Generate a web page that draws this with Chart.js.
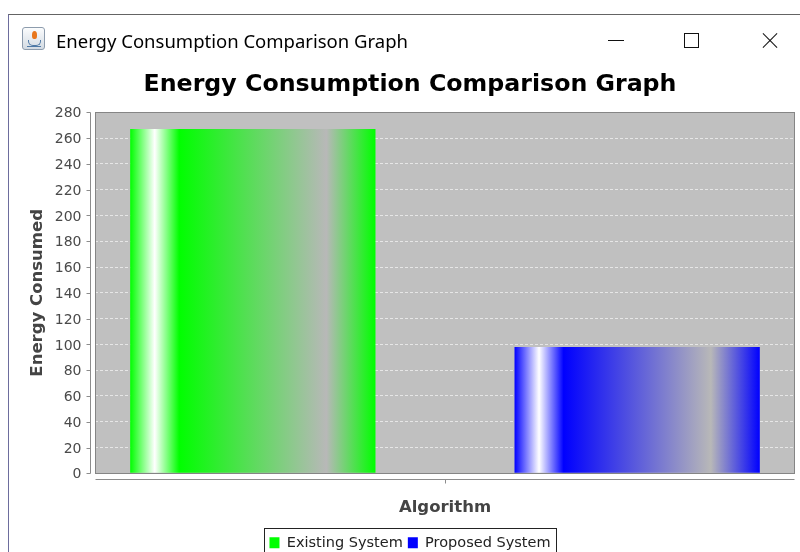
<!DOCTYPE html>
<html>
<head>
<meta charset="utf-8">
<script src="https://cdn.jsdelivr.net/npm/chart.js@4.4.1/dist/chart.umd.min.js"></script>
<style>
html, body { margin: 0; padding: 0; background: #ffffff; overflow: hidden; width: 800px; height: 552px; }
#chart { position: absolute; left: 0; top: 0; }
#frame { position: absolute; left: 8px; top: 14px; width: 800px; height: 560px; box-sizing: border-box;
  border-left: 1px solid #6d6d9d; border-top: 1px solid #646464; pointer-events: none; }
#wintitle { position: absolute; left: 56px; top: 28px; font-family: 'Noto Sans', sans-serif; font-size: 18.5px;
  line-height: 26px; color: #000; white-space: nowrap; }
#icon { position: absolute; left: 22px; top: 27px; width: 23px; height: 23px; box-sizing: border-box;
  border: 1px solid #8d9cad; border-radius: 3px; background: linear-gradient(#fbfcfd, #d3dbe3); }
#icon .flame { position: absolute; left: 9px; top: 3px; width: 5px; height: 8px; border-radius: 50% 50% 40% 40%;
  background: #e8761c; }
#icon .cup { position: absolute; left: 5px; top: 12px; width: 11px; height: 5px; border-radius: 0 0 5px 5px;
  border: 1px solid #4f79a6; border-top: none; }
#icon .plate { position: absolute; left: 4px; top: 18px; width: 14px; height: 1px; background: #4f79a6; }
#minb { position: absolute; left: 608px; top: 40px; width: 16px; height: 1px; background: #111; }
#maxb { position: absolute; left: 684px; top: 33px; width: 15px; height: 15px; box-sizing: border-box; border: 1px solid #111; }
.xl { position: absolute; left: 760px; top: 40px; width: 20px; height: 1px; background: #111; }
</style>
</head>
<body>
<canvas id="chart" width="800" height="560" style="width:800px;height:560px"></canvas>
<div id="frame"></div>
<div id="icon"><div class="flame"></div><div class="cup"></div><div class="plate"></div></div>
<div id="wintitle">Energy Consumption Comparison Graph</div>
<div id="minb"></div>
<div id="maxb"></div>
<div class="xl" style="transform: rotate(45deg)"></div>
<div class="xl" style="transform: rotate(-45deg)"></div>
<script>
// ---- data ----
const categories = [''];
const seriesNames = ['Existing System', 'Proposed System'];
const existingSystem = [267];
const proposedSystem = [98];
const seriesColors = ['#00ff00', '#0000ff'];
const yMin = 0;
const yMax = 280;
const yStep = 20;
const chartTitle = 'Energy Consumption Comparison Graph';
const xTitle = 'Algorithm';
const yTitle = 'Energy Consumed';

const FONT = "'DejaVu Sans', Verdana, sans-serif";

function barGradient(base) {
  return (ctx) => {
    const el = ctx.element;
    if (!el || typeof el.x !== 'number' || !isFinite(el.x) || !el.width) return base;
    const x0 = el.x - el.width / 2, x1 = el.x + el.width / 2;
    const g = ctx.chart.ctx.createLinearGradient(x0, 0, x1, 0);
    g.addColorStop(0, base);
    g.addColorStop(0.1, '#ffffff');
    g.addColorStop(0.2, base);
    g.addColorStop(0.8, '#b8b8b8');
    g.addColorStop(1, base);
    return g;
  };
}

const decor = {
  id: 'decor',
  beforeDraw(chart) {
    const { ctx, chartArea: a } = chart;
    ctx.save();
    ctx.fillStyle = '#c0c0c0';
    ctx.fillRect(a.left, a.top, a.right - a.left, a.bottom - a.top);
    ctx.restore();
  },
  afterDatasetsDraw(chart) {
    const { ctx, chartArea: a, scales } = chart;
    const x = scales.x, y = scales.y;
    ctx.save();
    ctx.strokeStyle = '#858585';
    ctx.lineWidth = 1;
    const L = Math.round(a.left) + 0.5, R = Math.round(a.right) - 0.5;
    const T = Math.round(a.top) + 0.5, B = Math.round(a.bottom) + 0.5;
    ctx.strokeRect(L, T, R - L, B - T);
    ctx.strokeStyle = '#8c8c8c';
    ctx.beginPath();
    const ax = L - 5;
    ctx.moveTo(ax, T); ctx.lineTo(ax, B);
    y.ticks.forEach((t, i) => {
      const py = Math.round(y.getPixelForTick(i)) + 0.5;
      ctx.moveTo(ax - 4, py); ctx.lineTo(ax, py);
    });
    const ay = B + 6;
    ctx.moveTo(L, ay); ctx.lineTo(R, ay);
    x.ticks.forEach((t, i) => {
      const px = Math.round(x.getPixelForTick(i)) + 0.5;
      ctx.moveTo(px, ay); ctx.lineTo(px, ay + 4);
    });
    ctx.stroke();
    ctx.restore();
  },
  afterDraw(chart) {
    const lg = chart.legend;
    if (!lg || !lg.legendHitBoxes || !lg.legendHitBoxes.length) return;
    const hb = lg.legendHitBoxes;
    const last = hb[hb.length - 1];
    const l = Math.round(hb[0].left - 5) + 0.5;
    const r = Math.round(last.left + last.width + 5) + 0.5;
    const t = Math.round(lg.top - 3) + 0.5;
    const ctx = chart.ctx;
    ctx.save();
    ctx.strokeStyle = '#222';
    ctx.lineWidth = 1;
    ctx.strokeRect(l, t, r - l, 60);
    ctx.restore();
  }
};

const chart = new Chart(document.getElementById('chart'), {
  type: 'bar',
  data: {
    labels: categories,
    datasets: [
      { label: seriesNames[0], data: existingSystem, backgroundColor: barGradient(seriesColors[0]), borderWidth: 0 },
      { label: seriesNames[1], data: proposedSystem, backgroundColor: barGradient(seriesColors[1]), borderWidth: 0 }
    ]
  },
  options: {
    responsive: false,
    animation: false,
    devicePixelRatio: 1,
    events: [],
    datasets: { bar: { categoryPercentage: 1.0981, barPercentage: 0.6382 } },
    layout: { padding: { left: 25, right: 5, top: 0, bottom: 0 } },
    plugins: {
      title: {
        display: true, text: chartTitle, color: '#000000',
        font: { family: FONT, size: 23.7, weight: 'bold', lineHeight: 1.2 },
        padding: { top: 70.8, bottom: 13.1 }
      },
      legend: {
        position: 'bottom',
        labels: {
          font: { family: FONT, size: 14.5 }, color: '#222', boxWidth: 10, boxHeight: 11, padding: 5,
          generateLabels: (c) => c.data.datasets.map((ds, i) => ({
            text: ds.label, fillStyle: seriesColors[i], strokeStyle: seriesColors[i],
            lineWidth: 0, hidden: false, datasetIndex: i, fontColor: '#222'
          }))
        }
      },
      tooltip: { enabled: false }
    },
    scales: {
      x: {
        grid: { display: false },
        border: { display: false },
        ticks: { display: false },
        title: {
          display: true, text: xTitle, color: '#444444',
          font: { family: FONT, size: 16.5, weight: 'bold', lineHeight: 1.2 },
          padding: { top: 0, bottom: 12.6 }
        },
        afterFit: (s) => { s.height = 57.2; }
      },
      y: {
        min: yMin, max: yMax,
        ticks: { stepSize: yStep, padding: 13.5, labelOffset: 1.5, color: '#4a4a4a', font: { family: FONT, size: 14 } },
        grid: { color: 'rgba(255,255,255,0.6)', lineWidth: 1, drawTicks: false },
        border: { display: false, dash: [3, 2] },
        title: {
          display: true, text: yTitle, color: '#444444',
          font: { family: FONT, size: 16.5, weight: 'bold', lineHeight: 1.2 },
          padding: { top: 2.6, bottom: 0 }
        },
        afterFit: (s) => { s.width = 70; }
      }
    }
  },
  plugins: [decor]
});
chart.update('none');
</script>
</body>
</html>
